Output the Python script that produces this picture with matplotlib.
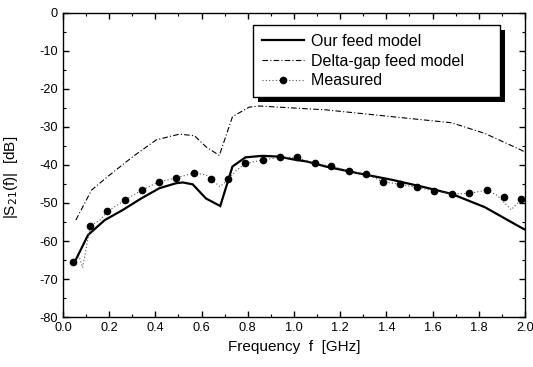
import matplotlib
matplotlib.use("Agg")
import matplotlib.pyplot as plt
from matplotlib.lines import Line2D
from matplotlib.patches import Rectangle
import numpy as np

plt.rcParams['font.family'] = ['Liberation Sans', 'DejaVu Sans']
plt.rcParams['axes.unicode_minus'] = False

# Our feed model (solid)
our_f = [0.052, 0.109, 0.181, 0.26, 0.339, 0.418, 0.49, 0.519, 0.562, 0.619, 0.681,
         0.734, 0.79, 0.863, 0.935, 0.993, 1.057, 1.137, 1.28, 1.424, 1.568, 1.682, 1.826, 1.984, 2.0]
our_db = [-65.4, -58.4, -54.5, -51.8, -48.8, -46.1, -44.8, -44.6, -45.1, -48.8, -50.8,
          -40.4, -38.0, -37.6, -37.8, -38.5, -39.1, -40.4, -42.2, -43.9, -45.9, -47.6, -51.1, -56.5, -57.0]

# Delta-gap feed model (dash-dot)
dg_f = [0.056, 0.124, 0.203, 0.303, 0.404, 0.504, 0.569, 0.619, 0.677, 0.734, 0.806,
        0.849, 1.137, 1.424, 1.682, 1.826, 1.984, 2.0]
dg_db = [-54.5, -46.6, -42.6, -37.8, -33.4, -31.9, -32.3, -35.2, -37.5, -27.3, -24.8,
         -24.5, -25.5, -27.3, -28.9, -31.7, -36.1, -36.6]

# Measured: raw trace (dotted)
ml_f = [0.044, 0.07, 0.085, 0.119, 0.16, 0.193, 0.267, 0.342, 0.417, 0.491, 0.566, 0.62,
        0.68, 0.716, 0.75, 0.789, 0.864, 0.938, 1.012, 1.089, 1.162, 1.237, 1.312, 1.385,
        1.46, 1.534, 1.608, 1.683, 1.758, 1.834, 1.88, 1.94, 1.984, 2.0]
ml_db = [-65.4, -64.0, -67.0, -56.0, -54.5, -52.2, -49.3, -46.6, -44.4, -43.4, -42.1, -42.6,
         -45.7, -43.8, -41.5, -39.6, -38.7, -38.0, -38.0, -39.6, -40.3, -41.6, -42.4, -44.4,
         -45.1, -45.9, -46.8, -47.6, -47.5, -46.6, -48.0, -51.8, -49.0, -48.8]

# Measured: marked points
m_f = [0.044, 0.119, 0.193, 0.267, 0.342, 0.417, 0.491, 0.566, 0.641, 0.716, 0.789, 0.864,
       0.938, 1.012, 1.089, 1.162, 1.237, 1.312, 1.385, 1.46, 1.534, 1.608, 1.683, 1.758,
       1.834, 1.908, 1.984]
m_db = [-65.4, -56.0, -52.2, -49.3, -46.6, -44.4, -43.4, -42.1, -43.8, -43.8, -39.6, -38.7,
        -38.0, -38.0, -39.6, -40.3, -41.6, -42.4, -44.4, -45.1, -45.9, -46.8, -47.6, -47.5,
        -46.6, -48.5, -49.0]

legend_labels = ['Our feed model', 'Delta-gap feed model', 'Measured']

fig = plt.figure(figsize=(5.33, 3.67), dpi=100)
ax = fig.add_axes([0.118, 0.136, 0.867, 0.829])

ax.plot(our_f, our_db, color='black', lw=1.6, solid_joinstyle='miter')
ax.plot(dg_f, dg_db, color='black', lw=0.8, linestyle=(0, (5, 2, 1, 2)))
ax.plot(ml_f, ml_db, color='#555555', lw=0.8, linestyle=(0, (1, 2)))
ax.plot(m_f, m_db, linestyle='none', marker='o', color='black', markersize=4.5)

ax.set_xlim(0, 2.0)
ax.set_ylim(-80, 0)
ax.set_xticks(np.arange(0, 2.01, 0.2))
ax.set_xticks(np.arange(0, 2.01, 0.1), minor=True)
ax.set_yticks(np.arange(-80, 1, 10))
ax.set_yticks(np.arange(-80, 1, 5), minor=True)
ax.xaxis.set_major_formatter(matplotlib.ticker.FormatStrFormatter('%.1f'))
ax.tick_params(which='both', direction='in', top=True, right=True, labelsize=9.2)
ax.tick_params(which='major', length=4, width=1)
ax.tick_params(which='minor', length=2, width=0.8)
for s in ax.spines.values():
    s.set_linewidth(1.0)

ax.set_xlabel('Frequency  f  [GHz]', fontsize=11)
ax.set_ylabel(r'|S$_{21}$(f)|  [dB]', fontsize=11)
ax.yaxis.set_label_coords(-0.093, 0.46)

handles = [Line2D([], [], color='black', lw=1.6),
           Line2D([], [], color='black', lw=0.8, linestyle=(0, (5, 2, 1, 2))),
           Line2D([], [], color='#555555', lw=0.8, linestyle=(0, (1, 2)), marker='o',
                  markerfacecolor='black', markeredgecolor='black', markersize=4.5)]
leg = ax.legend(handles, [l + '      ' for l in legend_labels],
                loc='upper right', bbox_to_anchor=(0.945, 0.96), borderaxespad=0,
                fontsize=11.5, frameon=True, fancybox=False, edgecolor='black',
                framealpha=1, shadow=False, handlelength=2.6,
                borderpad=0.55, labelspacing=0.3, handletextpad=0.45)
leg.get_frame().set_linewidth(1.0)
leg.set_zorder(10)

fig.canvas.draw()
bb = leg.get_window_extent()
off = 5
inv = ax.transAxes.inverted()
x0, y0 = inv.transform((bb.x0 + off, bb.y0 - off))
x1, y1 = inv.transform((bb.x1 + off, bb.y1 - off))
ax.add_patch(Rectangle((x0, y0), x1 - x0, y1 - y0, transform=ax.transAxes,
                       facecolor='black', edgecolor='none', zorder=9, clip_on=False))

fig.savefig('out.png', dpi=100)
